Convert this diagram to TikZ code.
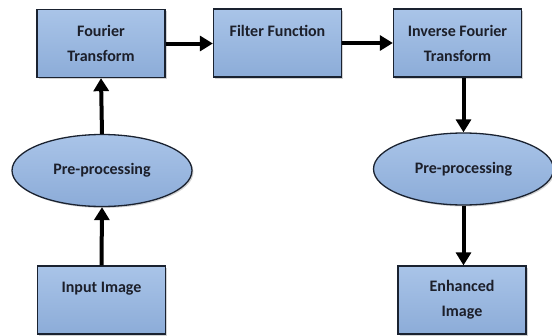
\documentclass[tikz,border=0pt]{standalone}
\usepackage{fontspec}
\setmainfont{Carlito}
\usetikzlibrary{arrows.meta,shapes.geometric,shadows}
\definecolor{boxtop}{HTML}{A9C4E8}
\definecolor{boxbot}{HTML}{8CACD8}
\definecolor{edge}{HTML}{1A2230}
\definecolor{ink}{HTML}{1C1F2A}
\tikzset{
  block/.style={draw=edge, line width=1.3pt, top color=boxtop, bottom color=boxbot,
    minimum width=128pt, minimum height=68pt, align=center,
    font=\fontsize{16}{25}\selectfont\bfseries, text=ink,
    drop shadow={shadow xshift=1.5pt, shadow yshift=-1.5pt, opacity=0.35}},
  oval/.style={ellipse, draw=edge, line width=1.3pt, top color=boxtop, bottom color=boxbot,
    minimum width=180pt, minimum height=72pt, inner sep=0pt,
    font=\fontsize{16}{25}\selectfont\bfseries, text=ink,
    drop shadow={shadow xshift=1.5pt, shadow yshift=-1.5pt, opacity=0.35}},
  flow/.style={line width=4pt, -{Triangle[length=13pt,width=15pt]}}
}
\begin{document}
\begin{tikzpicture}[x=1pt,y=-1pt]
\useasboundingbox (0,0) rectangle (552,335);
\node[block] (ft)  at (101,43.5) {Fourier\\Transform};
\node[block] (ff)  at (277.5,43) {Filter Function\\\phantom{X}};
\node[block] (ift) at (457.5,43) {Inverse Fourier\\Transform};
\node[oval]  (pl)  at (102,170.5) {Pre-processing};
\node[oval]  (pr)  at (463.5,169) {Pre-processing};
\node[block] (in) at (101.5,300) {Input Image\\\phantom{X}};
\node[block] (en) at (462,300) {Enhanced\\Image};
\draw[flow] (in.north) -- (pl.south);
\draw[flow] (pl.north) -- (ft.south);
\draw[flow] (ft.east) -- (ff.west |- ft.east);
\draw[flow] (ff.east) -- (ift.west |- ff.east);
\draw[flow] (ift.south -| pr.north) -- (pr.north);
\draw[flow] (pr.south) -- (en.north -| pr.south);
\end{tikzpicture}
\end{document}
